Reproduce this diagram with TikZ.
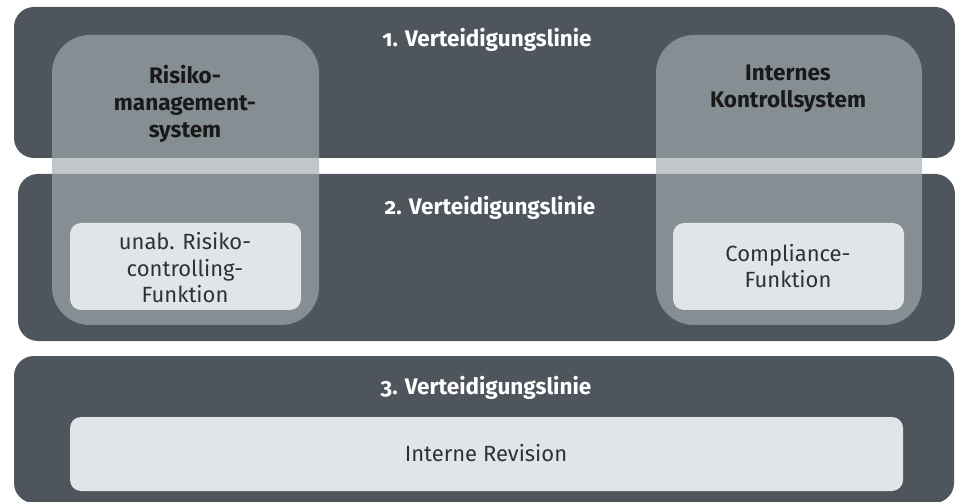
\documentclass[tikz,border=0pt]{standalone}
\usepackage{fontspec}
\setmainfont{Fira Sans}[Numbers=OldStyle]
\definecolor{band}{HTML}{4F555C}
\definecolor{colfill}{RGB}{161,170,175}
\definecolor{inner}{HTML}{E2E5E8}
\definecolor{txt}{HTML}{2E3236}
\tikzset{
  bandbox/.style={rectangle, fill=band, draw=none, rounded corners=20pt, inner sep=0pt},
  colbox/.style={rectangle, fill=colfill, fill opacity=0.67, draw=none, rounded corners=38pt, inner sep=0pt},
  innerbox/.style={rectangle, fill=inner, draw=none, rounded corners=11pt, inner sep=0pt},
  heading/.style={text=white, font=\fontsize{22.5}{26}\selectfont\bfseries},
  collabel/.style={text=black!90, font=\fontsize{22.5}{27}\selectfont\bfseries, align=center},
  boxlabel/.style={text=txt, font=\fontsize{22}{26.5}\selectfont, align=center},
}
\begin{document}
\begin{tikzpicture}[x=1pt, y=-1pt]
\useasboundingbox (0,0) rectangle (955,502);
\begin{scope}
\clip (0,0) rectangle (955,502);
\node[bandbox, minimum width=941pt, minimum height=151pt] (b1) at (484.5,82.5) {};
\node[bandbox, minimum width=937pt, minimum height=167pt] (b2) at (486.5,257.5) {};
\node[bandbox, minimum width=940pt, minimum height=147pt] (b3) at (484,429.5) {};
\end{scope}
\node[colbox, minimum width=267pt, minimum height=290pt] (c1) at (185.5,180) {};
\node[colbox, minimum width=266pt, minimum height=290pt] (c2) at (789,180) {};
\node[innerbox, minimum width=231pt, minimum height=87pt] (i1) at (185.5,266.5) {};
\node[innerbox, minimum width=231pt, minimum height=87pt] (i2) at (788.5,266.5) {};
\node[innerbox, minimum width=833pt, minimum height=74pt] (i3) at (486.5,454) {};
\node[heading] (h1) at (487,40) {1. Verteidigungslinie};
\node[heading] (h2) at (490,208) {2. Verteidigungslinie};
\node[heading] (h3) at (486,388) {3. Verteidigungslinie};
\node[collabel] (t1) at (185,104) {Risiko-\\management-\\system};
\node[collabel] (t2) at (788,89) {Internes\\Kontrollsystem};
\node[boxlabel] (t3) at (185,268) {unab. Risiko-\\controlling-\\Funktion};
\node[boxlabel] (t4) at (788,266) {Compliance-\\Funktion};
\node[boxlabel] (t5) at (486,453) {Interne Revision};
\end{tikzpicture}
\end{document}
